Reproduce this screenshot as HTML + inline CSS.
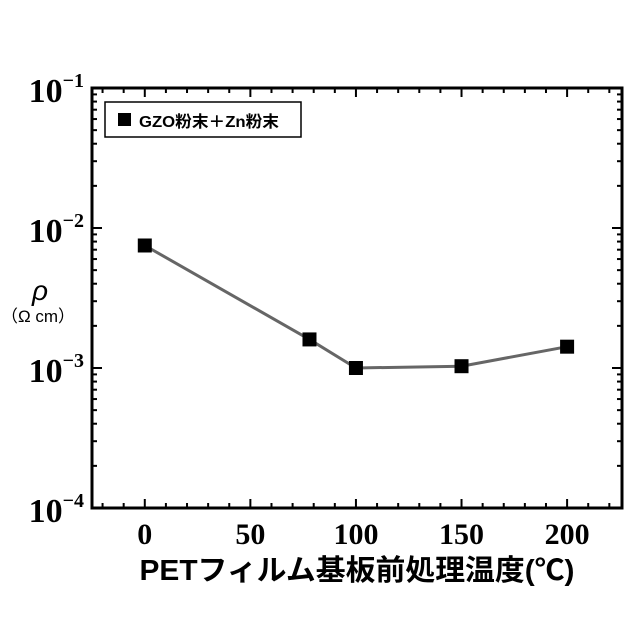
<!DOCTYPE html>
<html><head><meta charset="utf-8"><style>
body{margin:0;background:#fff;}
svg{display:block;}
text{font-family:"Liberation Serif",serif;}
.jp{font-family:"Liberation Sans","Noto Sans CJK JP",sans-serif;}
</style></head><body>
<svg id="chart" width="640" height="640">
<g id="axes"></g>
<g id="series"></g>
</svg>
<script>
const xValues=[0,78,100,150,200];
const yValues=[7.5e-3,1.6e-3,1.0e-3,1.03e-3,1.42e-3];
const xTicks=[0,50,100,150,200];
const yDecades=[-4,-3,-2,-1];
const seriesName="GZO粉末＋Zn粉末";

const L=92,R=622,T=88,B=508;
const xMin=-25,xMax=226;
const X=v=>L+(v-xMin)/(xMax-xMin)*(R-L);
const Y=v=>B-(Math.log10(v)+4)/3*(B-T);
const NS="http://www.w3.org/2000/svg";
function mk(tag,attrs,parent,txt){const e=document.createElementNS(NS,tag);for(const k in attrs)e.setAttribute(k,attrs[k]);if(txt!=null)e.textContent=txt;parent.appendChild(e);return e;}
const ax=document.getElementById('axes'),sr=document.getElementById('series');
const frame=mk('rect',{x:L,y:T,width:R-L,height:B-T,fill:'none',stroke:'#000','stroke-width':3},ax);


for(let v=-20;v<=220;v+=10){const major=v%50===0;const len=major?9:5;
 mk('line',{x1:X(v),x2:X(v),y1:B,y2:B-len,stroke:'#000','stroke-width':2},ax);
 mk('line',{x1:X(v),x2:X(v),y1:T,y2:T+len,stroke:'#000','stroke-width':2},ax);}
xTicks.forEach(v=>{const t=mk('text',{x:X(v),y:544,'text-anchor':'middle','font-size':30,'font-weight':'bold'},ax,String(v));
 
 });
for(let d=-4;d<-1;d++){for(let m=1;m<10;m++){const v=m*Math.pow(10,d);const len=m===1?10:5;
 mk('line',{x1:L,x2:L+len,y1:Y(v),y2:Y(v),stroke:'#000','stroke-width':2},ax);
 mk('line',{x1:R,x2:R-len,y1:Y(v),y2:Y(v),stroke:'#000','stroke-width':2},ax);}}
yDecades.forEach(d=>{const t=mk('text',{x:84,y:Y(Math.pow(10,d))+14,'text-anchor':'end','font-size':34,'font-weight':'bold'},ax);
 
 
 mk('tspan',{},t,'10');
 mk('tspan',{dy:-15,'font-size':20},t,'−'+Math.abs(d));});
const yt=mk('text',{x:40,y:300,'text-anchor':'middle','font-size':28,'font-style':'italic',class:'jp'},ax,'ρ');


const yu=mk('text',{x:38,y:322,'text-anchor':'middle','font-size':17,class:'jp'},ax,'（Ω cm）');


const xt=mk('text',{x:357,y:580,'text-anchor':'middle','font-size':29,'font-weight':'bold',textLength:435,lengthAdjust:'spacingAndGlyphs',class:'jp'},ax,'PETフィルム基板前処理温度(℃)');


const pts=xValues.map((x,i)=>X(x)+','+Y(yValues[i])).join(' ');
const line=mk('polyline',{points:pts,fill:'none',stroke:'#666','stroke-width':3},sr);


xValues.forEach((x,i)=>{const r=mk('rect',{x:X(x)-7,y:Y(yValues[i])-7,width:14,height:14,fill:'#000'},sr);
 
 });
const lg=mk('g',{},ax);


mk('rect',{x:105,y:102,width:196,height:35,fill:'#fff',stroke:'#000','stroke-width':1.5},lg);
mk('rect',{x:118,y:113,width:13,height:13,fill:'#000'},lg);
const lt=mk('text',{x:139,y:127,'font-size':16,'font-weight':'bold',textLength:140,lengthAdjust:'spacingAndGlyphs',class:'jp'},lg,seriesName);


</script>
</body></html>
